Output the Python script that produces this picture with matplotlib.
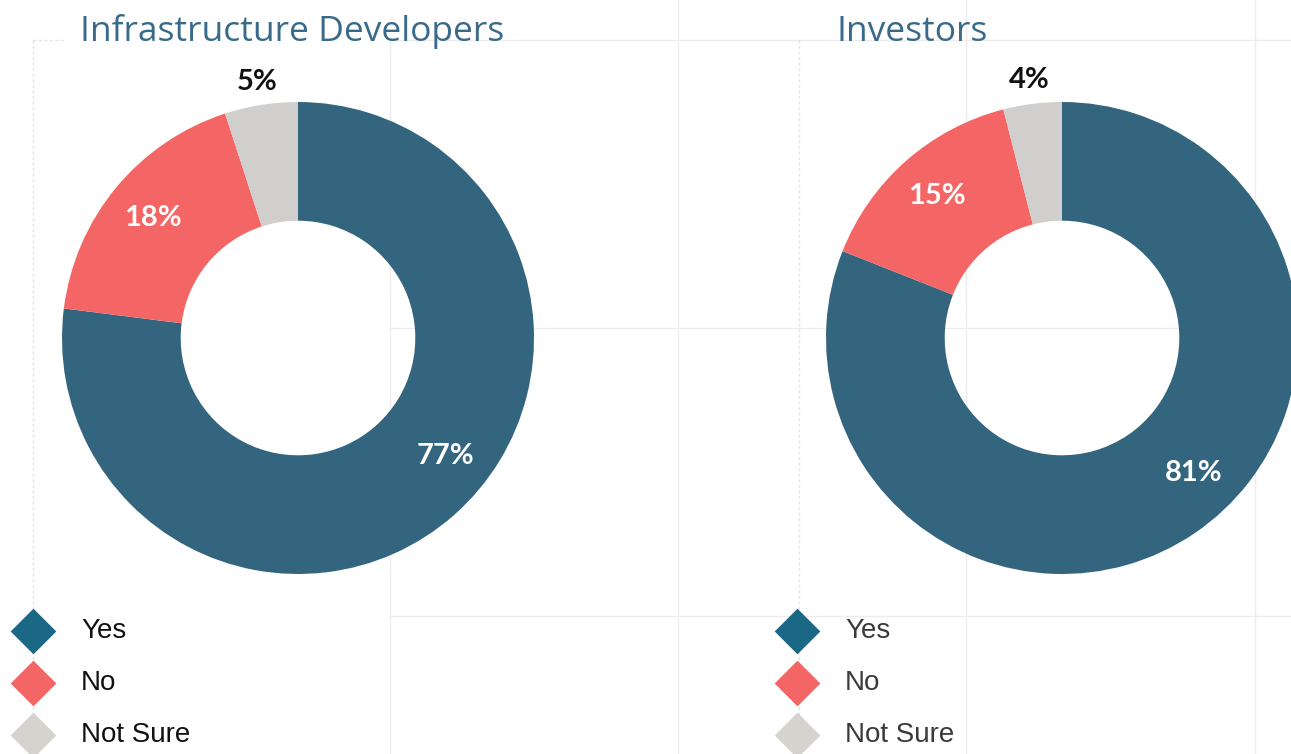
import numpy as np
import matplotlib
matplotlib.use("Agg")
import matplotlib.pyplot as plt

# ---------------- data ----------------
categories = ["Yes", "No", "Not Sure"]
developers = [77, 18, 5]
investors = [81, 15, 4]
titles = ["Infrastructure Developers", "Investors"]
slice_colors = ["#34657f", "#f46565", "#d0cfcd"]
legend_colors = ["#1a6886", "#f46565", "#d6d2cd"]

W, H = 1291, 754
fig = plt.figure(figsize=(W / 100, H / 100), dpi=100)
fig.patch.set_facecolor("white")

# background axes in pixel coordinates
bg = fig.add_axes([0, 0, 1, 1])
bg.set_xlim(0, W)
bg.set_ylim(H, 0)
bg.axis("off")

grid_c = "#ececec"
for x, y0 in [(390, 40), (678, 0), (966, 0), (1255, 0)]:
    bg.plot([x, x], [y0, H], color=grid_c, lw=1, zorder=0)
for y in [40, 328, 616]:
    bg.plot([390, W], [y, y], color=grid_c, lw=1, zorder=0)
for x in [33, 799]:
    bg.plot([x, x], [40, H], color="#e2e2e2", lw=1, ls=(0, (2, 2)), zorder=0)
bg.plot([33, 63], [40, 40], color="#e2e2e2", lw=1, ls=(0, (2, 2)), zorder=0)

title_font = "Open Sans"
pct_font = "Lato"


def donut(cx, cy, r, values, title, title_x, legend_x, legend_text_color):
    ax = fig.add_axes([(cx - r) / W, (H - cy - r) / H, 2 * r / W, 2 * r / H])
    ax.pie(values, colors=slice_colors, startangle=90, counterclock=False,
           radius=1.0, wedgeprops=dict(width=0.503, linewidth=0))
    ax.set_xlim(-1, 1)
    ax.set_ylim(-1, 1)
    ax.set_aspect("equal")
    ax.axis("off")
    total = float(sum(values))
    start = 90.0
    for i, v in enumerate(values):
        sweep = 360.0 * v / total
        mid = start - sweep / 2
        start -= sweep
        if i == 0:
            ang, rr, col = np.deg2rad(mid + 10), 0.80, "white"
        elif i == 1:
            ang, rr, col = np.deg2rad(mid), 0.80, "white"
        else:
            ang, rr, col = np.deg2rad(mid), 1.10, "#111111"
        ax.text(rr * np.cos(ang), rr * np.sin(ang), f"{v}%", ha="center",
                va="center", color=col, fontsize=21, fontweight="bold",
                family=pct_font, clip_on=False)
    bg.text(title_x, 41, title, color="#3a6a89", fontsize=25.5, family=title_font,
            ha="left", va="baseline")
    for j, (cat, c) in enumerate(zip(categories, legend_colors)):
        y = 631 + 52 * j
        bg.scatter([legend_x], [y], marker="D", s=540, color=c, linewidths=0,
                   zorder=3, clip_on=False)
        bg.text(legend_x + 48, y, cat, color=legend_text_color, fontsize=20,
                family="Liberation Sans", ha="left", va="center")


donut(298, 338, 236, developers, titles[0], 80, 33, "#111111")
donut(1062, 338, 236, investors, titles[1], 836, 797, "#3a3a3a")

fig.savefig("out.png", dpi=100, facecolor="white")
